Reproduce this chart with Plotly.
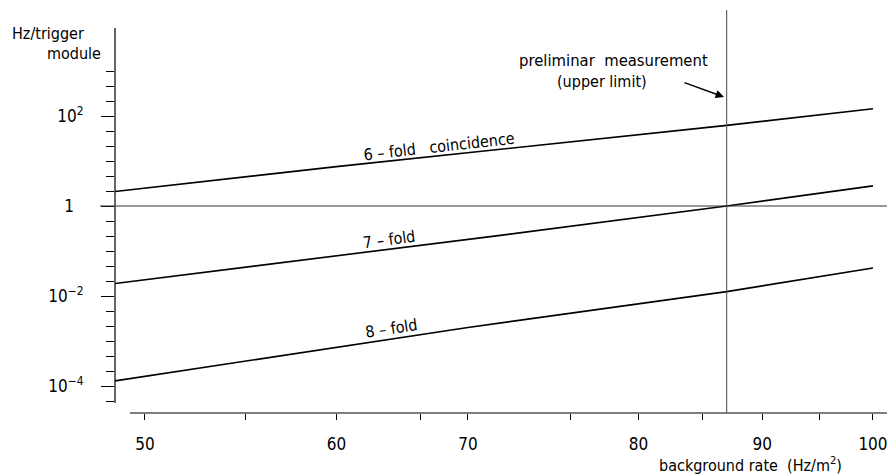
import plotly.graph_objects as go

# ---------------- data ----------------
rate_6fold = [48.6, 60, 87, 100]          # background rate (Hz/m^2)
hz_6fold = [2.1, 7.5, 62, 145]            # Hz / trigger module

rate_7fold = [48.6, 70, 87, 100]
hz_7fold = [0.019, 0.22, 1.0, 2.8]

rate_8fold = [48.6, 68, 87, 100]
hz_8fold = [1.3e-4, 2.0e-3, 0.0125, 0.042]

measurement_rate = 87                      # preliminar measurement (upper limit)

x_tick_vals = [50, 55, 60, 65, 68, 75, 80, 85, 90, 95, 100]
x_tick_text = ["50", "", "60", "", "70", "", "80", "", "90", "", "100"]

y_major_vals = [1e-4, 1e-2, 1, 1e2]
y_major_text = ["10<sup>\u22124</sup>", "10<sup>\u22122</sup>",
                "1<span style='color:rgba(0,0,0,0)'>0</span>", "10<sup>2</sup>"]

# ---------------- layout helpers ----------------
W, H = 887, 474
L, T = 115, 28          # plot area left / top (px)
PW, PH = 772, 385       # plot area size (px)

def px(x):
    return (x - L) / PW

def py(y):
    return (T + PH - y) / PH

FONT = "DejaVu Sans Condensed, Liberation Sans Narrow, Arial Narrow, sans-serif"
line_style = dict(color="black", width=1.6)

fig = go.Figure()
for xs, ys in [(rate_6fold, hz_6fold), (rate_7fold, hz_7fold), (rate_8fold, hz_8fold)]:
    fig.add_trace(go.Scatter(x=xs, y=ys, mode="lines", line=line_style,
                             showlegend=False, hoverinfo="skip"))

y_minor_vals = [10 ** (k / 3) for k in range(-13, 10) if k % 6 != 0]

fig.update_layout(
    width=W, height=H,
    margin=dict(l=L, r=W - L - PW, t=T, b=H - T - PH),
    paper_bgcolor="white", plot_bgcolor="white",
    font=dict(family=FONT, color="black", size=16),
    xaxis=dict(type="log", range=[1.6866, 2.0058], showgrid=False, zeroline=False,
               showline=False, tickmode="array", tickvals=x_tick_vals, ticktext=x_tick_text,
               ticks="outside", ticklen=6, tickwidth=1, tickcolor="black",
               tickfont=dict(size=17, family=FONT), ticklabelstandoff=10,
               ticklabeloverflow="allow"),
    yaxis=dict(type="log", range=[-4.6, 3.956], showgrid=False, zeroline=False,
               showline=False, tickmode="array", tickvals=y_major_vals, ticktext=y_major_text,
               ticks="outside", ticklen=13, tickwidth=1, tickcolor="black",
               tickfont=dict(size=17, family=FONT), ticklabelstandoff=14,
               minor=dict(tickmode="array", tickvals=y_minor_vals, ticks="outside",
                          ticklen=8, tickwidth=1, tickcolor="black", showgrid=False)),
)

shapes = [
    # y axis line
    dict(type="line", xref="paper", yref="paper", x0=0, x1=0, y0=py(403), y1=1,
         line=dict(color="black", width=1.2)),
    # x axis line
    dict(type="line", xref="paper", yref="paper", x0=px(130), x1=1, y0=0, y1=0,
         line=dict(color="black", width=1.2)),
    # horizontal reference at 1 Hz
    dict(type="line", xref="paper", yref="y", x0=px(100), x1=1, y0=1, y1=1,
         line=dict(color="#333333", width=1)),
    # vertical line at measured rate
    dict(type="line", xref="x", yref="paper", x0=measurement_rate, x1=measurement_rate,
         y0=0, y1=py(10), line=dict(color="#444444", width=1)),
]
fig.update_layout(shapes=shapes)

ann = [
    dict(text="Hz/trigger", x=px(86), y=py(33), xanchor="right", yanchor="middle", font=dict(size=16)),
    dict(text="module", x=px(103), y=py(53), xanchor="right", yanchor="middle", font=dict(size=16)),
    dict(text="preliminar  measurement", x=px(517), y=py(60), xanchor="left", yanchor="middle", font=dict(size=16.5)),
    dict(text="(upper limit)", x=px(555), y=py(81), xanchor="left", yanchor="middle", font=dict(size=16)),
    dict(text="6 \u2013 fold   coincidence", x=px(439), y=py(146), xanchor="center", yanchor="middle",
         textangle=-6.4, font=dict(size=16)),
    dict(text="7 \u2013 fold", x=px(389), y=py(240), xanchor="center", yanchor="middle",
         textangle=-7.4, font=dict(size=16)),
    dict(text="8 \u2013 fold", x=px(391), y=py(328), xanchor="center", yanchor="middle",
         textangle=-8.5, font=dict(size=16)),
    dict(text="background rate  (Hz/m<sup>2</sup>)", x=px(750), y=py(464), xanchor="center",
         yanchor="middle", font=dict(size=16)),
]
for a in ann:
    a.update(xref="paper", yref="paper", showarrow=False)
    fig.add_annotation(**a)

# arrow pointing to the measurement line
fig.add_annotation(xref="paper", yref="paper", x=px(724), y=py(97), ax=-41, ay=-15,
                   axref="pixel", ayref="pixel", text="", showarrow=True,
                   arrowhead=2, arrowsize=1.2, arrowwidth=1.4, arrowcolor="black")

fig.write_html("out.html")
